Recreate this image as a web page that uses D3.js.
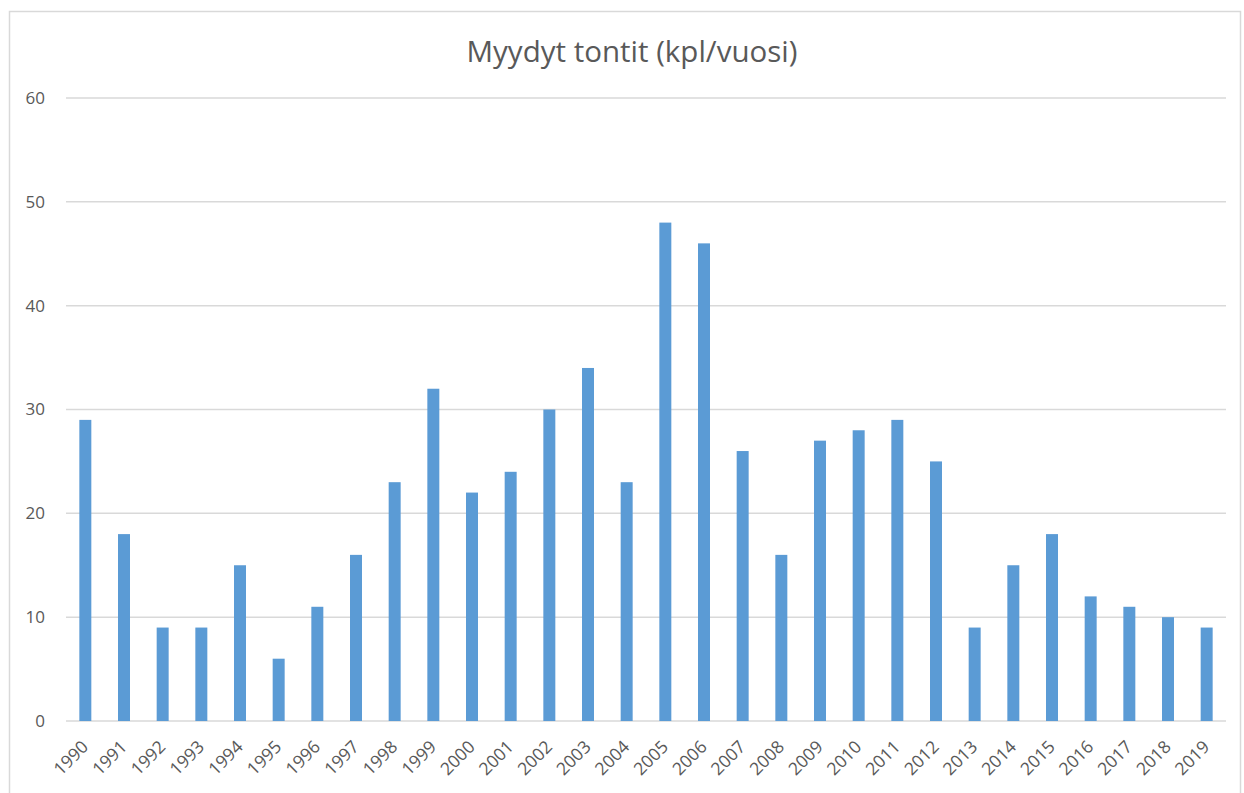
<!DOCTYPE html>
<html>
<head>
<meta charset="utf-8">
<script src="https://cdn.jsdelivr.net/npm/d3@7"></script>
<style>
  body { margin: 0; background: #fff; }
  text { font-family: "Open Sans", "Noto Sans", sans-serif; fill: #595959; }
</style>
</head>
<body>
<script>
// vuodet ja myydyt tontit
var years = d3.range(1990, 2020).map(String);
var sold = [29, 18, 9, 9, 15, 6, 11, 16, 23, 32, 22, 24, 30, 34, 23, 48, 46, 26, 16, 27, 28, 29, 25, 9, 15, 18, 12, 11, 10, 9];
var yTicks = [0, 10, 20, 30, 40, 50, 60];

var width = 1244, height = 793;
var margin = { top: 98, right: 18, bottom: 72, left: 66 };
var innerW = width - margin.left - margin.right,
    innerH = height - margin.top - margin.bottom;

var svg = d3.select("body").append("svg")
    .attr("width", width)
    .attr("height", height);

// kehys
svg.append("rect")
    .attr("x", 9.5).attr("y", 11.5)
    .attr("width", width - 13).attr("height", height)
    .attr("fill", "none")
    .attr("stroke", "#d9d9d9")
    .attr("stroke-width", 1.5);

svg.append("text")
    .attr("x", 632).attr("y", 62)
    .attr("text-anchor", "middle")
    .style("font-size", "29.5px")
    .text("Myydyt tontit (kpl/vuosi)");

var g = svg.append("g")
    .attr("transform", "translate(" + margin.left + "," + margin.top + ")");

var x = d3.scaleBand().domain(years).range([0, innerW]).paddingInner(0.69).paddingOuter(0.345);
var y = d3.scaleLinear().domain([0, 60]).range([innerH, 0]);

// ruudukko
g.selectAll(".grid")
    .data(yTicks)
    .enter()
    .append("line")
    .attr("class", "grid")
    .attr("x1", 0).attr("x2", innerW)
    .attr("y1", function (d) { return y(d); })
    .attr("y2", function (d) { return y(d); })
    .attr("stroke", "#d9d9d9")
    .attr("stroke-width", 1.5);

var yAxis = g.append("g")
    .call(d3.axisLeft(y).tickValues(yTicks).tickSize(0).tickPadding(21));
yAxis.select(".domain").remove();
yAxis.selectAll("text").style("font-size", "17px").attr("fill", "#595959");

g.selectAll(".bar")
    .data(sold)
    .enter()
    .append("rect")
    .attr("class", "bar")
    .attr("x", function (d, i) { return x(years[i]); })
    .attr("y", function (d) { return y(d); })
    .attr("width", x.bandwidth())
    .attr("height", function (d) { return innerH - y(d); })
    .attr("fill", "#5b9bd5");

var xAxis = g.append("g")
    .attr("transform", "translate(0," + innerH + ")")
    .call(d3.axisBottom(x).tickSize(0).tickPadding(0));
xAxis.select(".domain").remove();
xAxis.selectAll("text")
    .style("font-size", "17.5px")
    .attr("fill", "#595959")
    .attr("text-anchor", "end")
    .attr("dy", "0")
    .attr("transform", "translate(4,27) rotate(-45)");
</script>
</body>
</html>
